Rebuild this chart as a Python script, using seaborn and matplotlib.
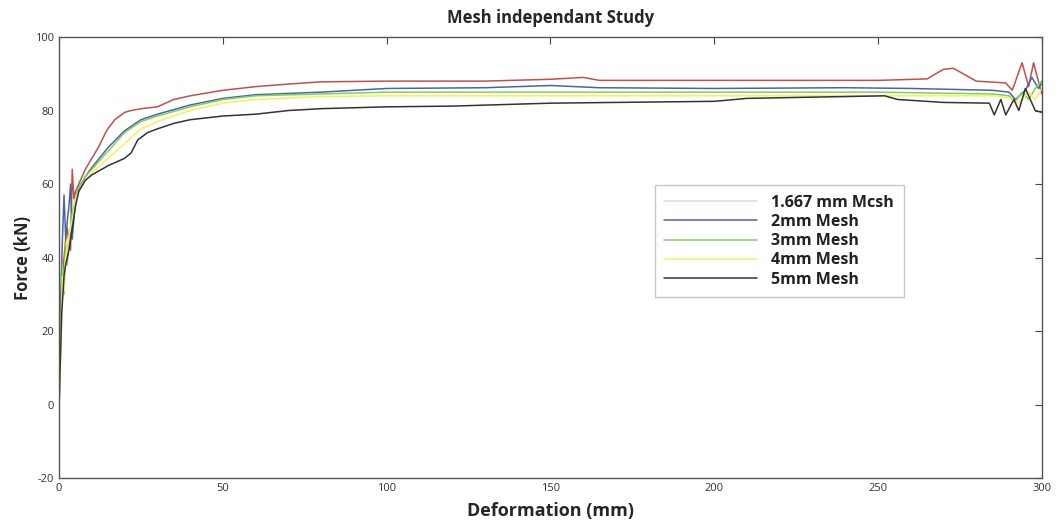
import pandas as pd
import seaborn as sns
import matplotlib.pyplot as plt

# deformation (mm) / force (kN)
red_x = [0, 0.5, 1, 1.5, 2, 2.5, 3, 3.5, 4, 4.5, 5, 6, 8, 10, 12, 14.6, 17, 20, 22, 25, 30, 35, 40, 50, 60,
         70, 80, 100, 130, 150, 160, 165, 200, 250, 265, 270, 273, 276, 280, 289, 291, 294, 296, 297.5, 300]
red_y = [0, 27, 35, 40, 45, 48, 44, 42, 64, 56, 58, 60, 64, 67, 70, 74.7, 77.5, 79.5, 80, 80.5, 81, 83, 84, 85.5, 86.5,
         87.2, 87.8, 88, 88, 88.5, 89, 88.2, 88.2, 88.2, 88.6, 91.2, 91.5, 90, 88, 87.5, 85.5, 93, 86.5, 93, 84.5]

blue_x = [0, 0.5, 1, 1.5, 2, 2.5, 3, 3.5, 4, 5, 6, 8, 10, 15, 20, 25, 30, 40, 50, 60, 80, 100, 130, 150,
          165, 200, 240, 260, 285, 290, 292, 295, 297, 299, 300]
blue_y = [0, 30, 45, 57, 45, 50, 54, 60, 45, 56, 59, 62, 64.5, 70, 74.5, 77.5, 79, 81.5, 83.3, 84.3, 85, 86, 86.2, 86.8,
          86.2, 86, 86.2, 86, 85.5, 85, 83, 85.5, 89, 86, 87.5]

green_x = [0, 0.5, 1, 1.5, 2, 2.5, 3, 4, 5, 6, 8, 10, 15, 20, 25, 30, 40, 50, 60, 80, 100, 150, 200, 250,
           285, 290, 292, 294, 296, 298, 300]
green_y = [0, 20, 38, 30, 44, 38, 45, 52, 56, 59, 62, 64, 69, 74, 77, 78.5, 81, 83, 84, 84.5, 85, 85, 85, 85,
           84.5, 84, 82.5, 85, 83, 86, 88]

yellow_x = [0, 0.5, 1, 1.5, 2, 3, 4, 5, 6, 8, 10, 15, 20, 25, 30, 40, 50, 60, 80, 100, 150, 200, 250,
            285, 290, 293, 296, 298, 300]
yellow_y = [0, 12, 35, 31, 40, 46, 50, 56, 58, 61, 63, 67, 71, 75, 77, 80, 82, 83, 83.8, 84, 84, 84, 84,
            84, 83.5, 82, 85, 83, 86]

black_x = [0, 0.3, 0.8, 1.5, 2, 3, 4, 5, 6, 8, 10, 15, 20, 22, 24, 27, 30, 35, 40, 50, 60, 70, 80, 100, 120,
           150, 200, 210, 240, 252, 256, 270, 284, 285.5, 287.5, 289, 291.5, 293, 295, 298, 300]
black_y = [0, 10, 25, 35, 38, 42, 48, 54, 58, 61, 62.5, 65, 67, 68.5, 72, 74, 75, 76.5, 77.5, 78.5, 79, 80, 80.5, 81, 81.2,
           82, 82.5, 83.3, 83.8, 84, 83, 82.2, 82, 78.8, 83, 78.8, 83, 80, 86, 80, 79.5]

labels = ["1.667 mm Mcsh", "2mm Mesh", "3mm Mesh", "4mm Mesh", "5mm Mesh"]
colors = ["#c0504d", "#4f62a8", "#7fd060", "#f2f25a", "#333333"]

frames = []
for lab, xs, ys in zip(labels, [red_x, blue_x, green_x, yellow_x, black_x],
                       [red_y, blue_y, green_y, yellow_y, black_y]):
    frames.append(pd.DataFrame({"x": xs, "y": ys, "mesh": lab}))
df = pd.concat(frames, ignore_index=True)

sns.set_style("white")
plt.rcParams['font.family'] = ['Open Sans', 'DejaVu Sans']
plt.rcParams['axes.unicode_minus'] = False

fig = plt.figure(figsize=(10.56, 5.25), dpi=100)
ax = fig.add_axes([0.056, 0.0895, 0.9305, 0.84])
sns.lineplot(data=df, x="x", y="y", hue="mesh", palette=dict(zip(labels, colors)),
             sort=False, estimator=None, linewidth=1.1, ax=ax)

ax.set_xlim(0, 300)
ax.set_ylim(-20, 100)
ax.set_xticks(range(0, 301, 50))
ax.set_yticks(range(-20, 101, 20))
ax.tick_params(direction="in", length=5, top=True, right=True, labelsize=8,
               labelcolor="#333333", color="#444444")
for s in ax.spines.values():
    s.set_color("#555555")
    s.set_linewidth(1.0)

ax.set_title("Mesh independant Study", fontsize=12, fontweight="bold", pad=10)
ax.set_xlabel("Deformation (mm)", fontsize=13, fontweight="bold", labelpad=6)
ax.set_ylabel("Force (kN)", fontsize=12, fontweight="bold", labelpad=2)

leg = ax.legend(loc="upper left", bbox_to_anchor=(0.606, 0.664), frameon=True, fancybox=False,
                edgecolor="#bbbbbb", fontsize=11.5, handlelength=5.8, labelspacing=0.2,
                borderpad=0.6, handletextpad=0.9, borderaxespad=0)
leg.get_lines()[0].set_color("#dddddd")
for t in leg.get_texts():
    t.set_fontweight("bold")
    t.set_color("#222222")

plt.savefig("out.png", dpi=100)
